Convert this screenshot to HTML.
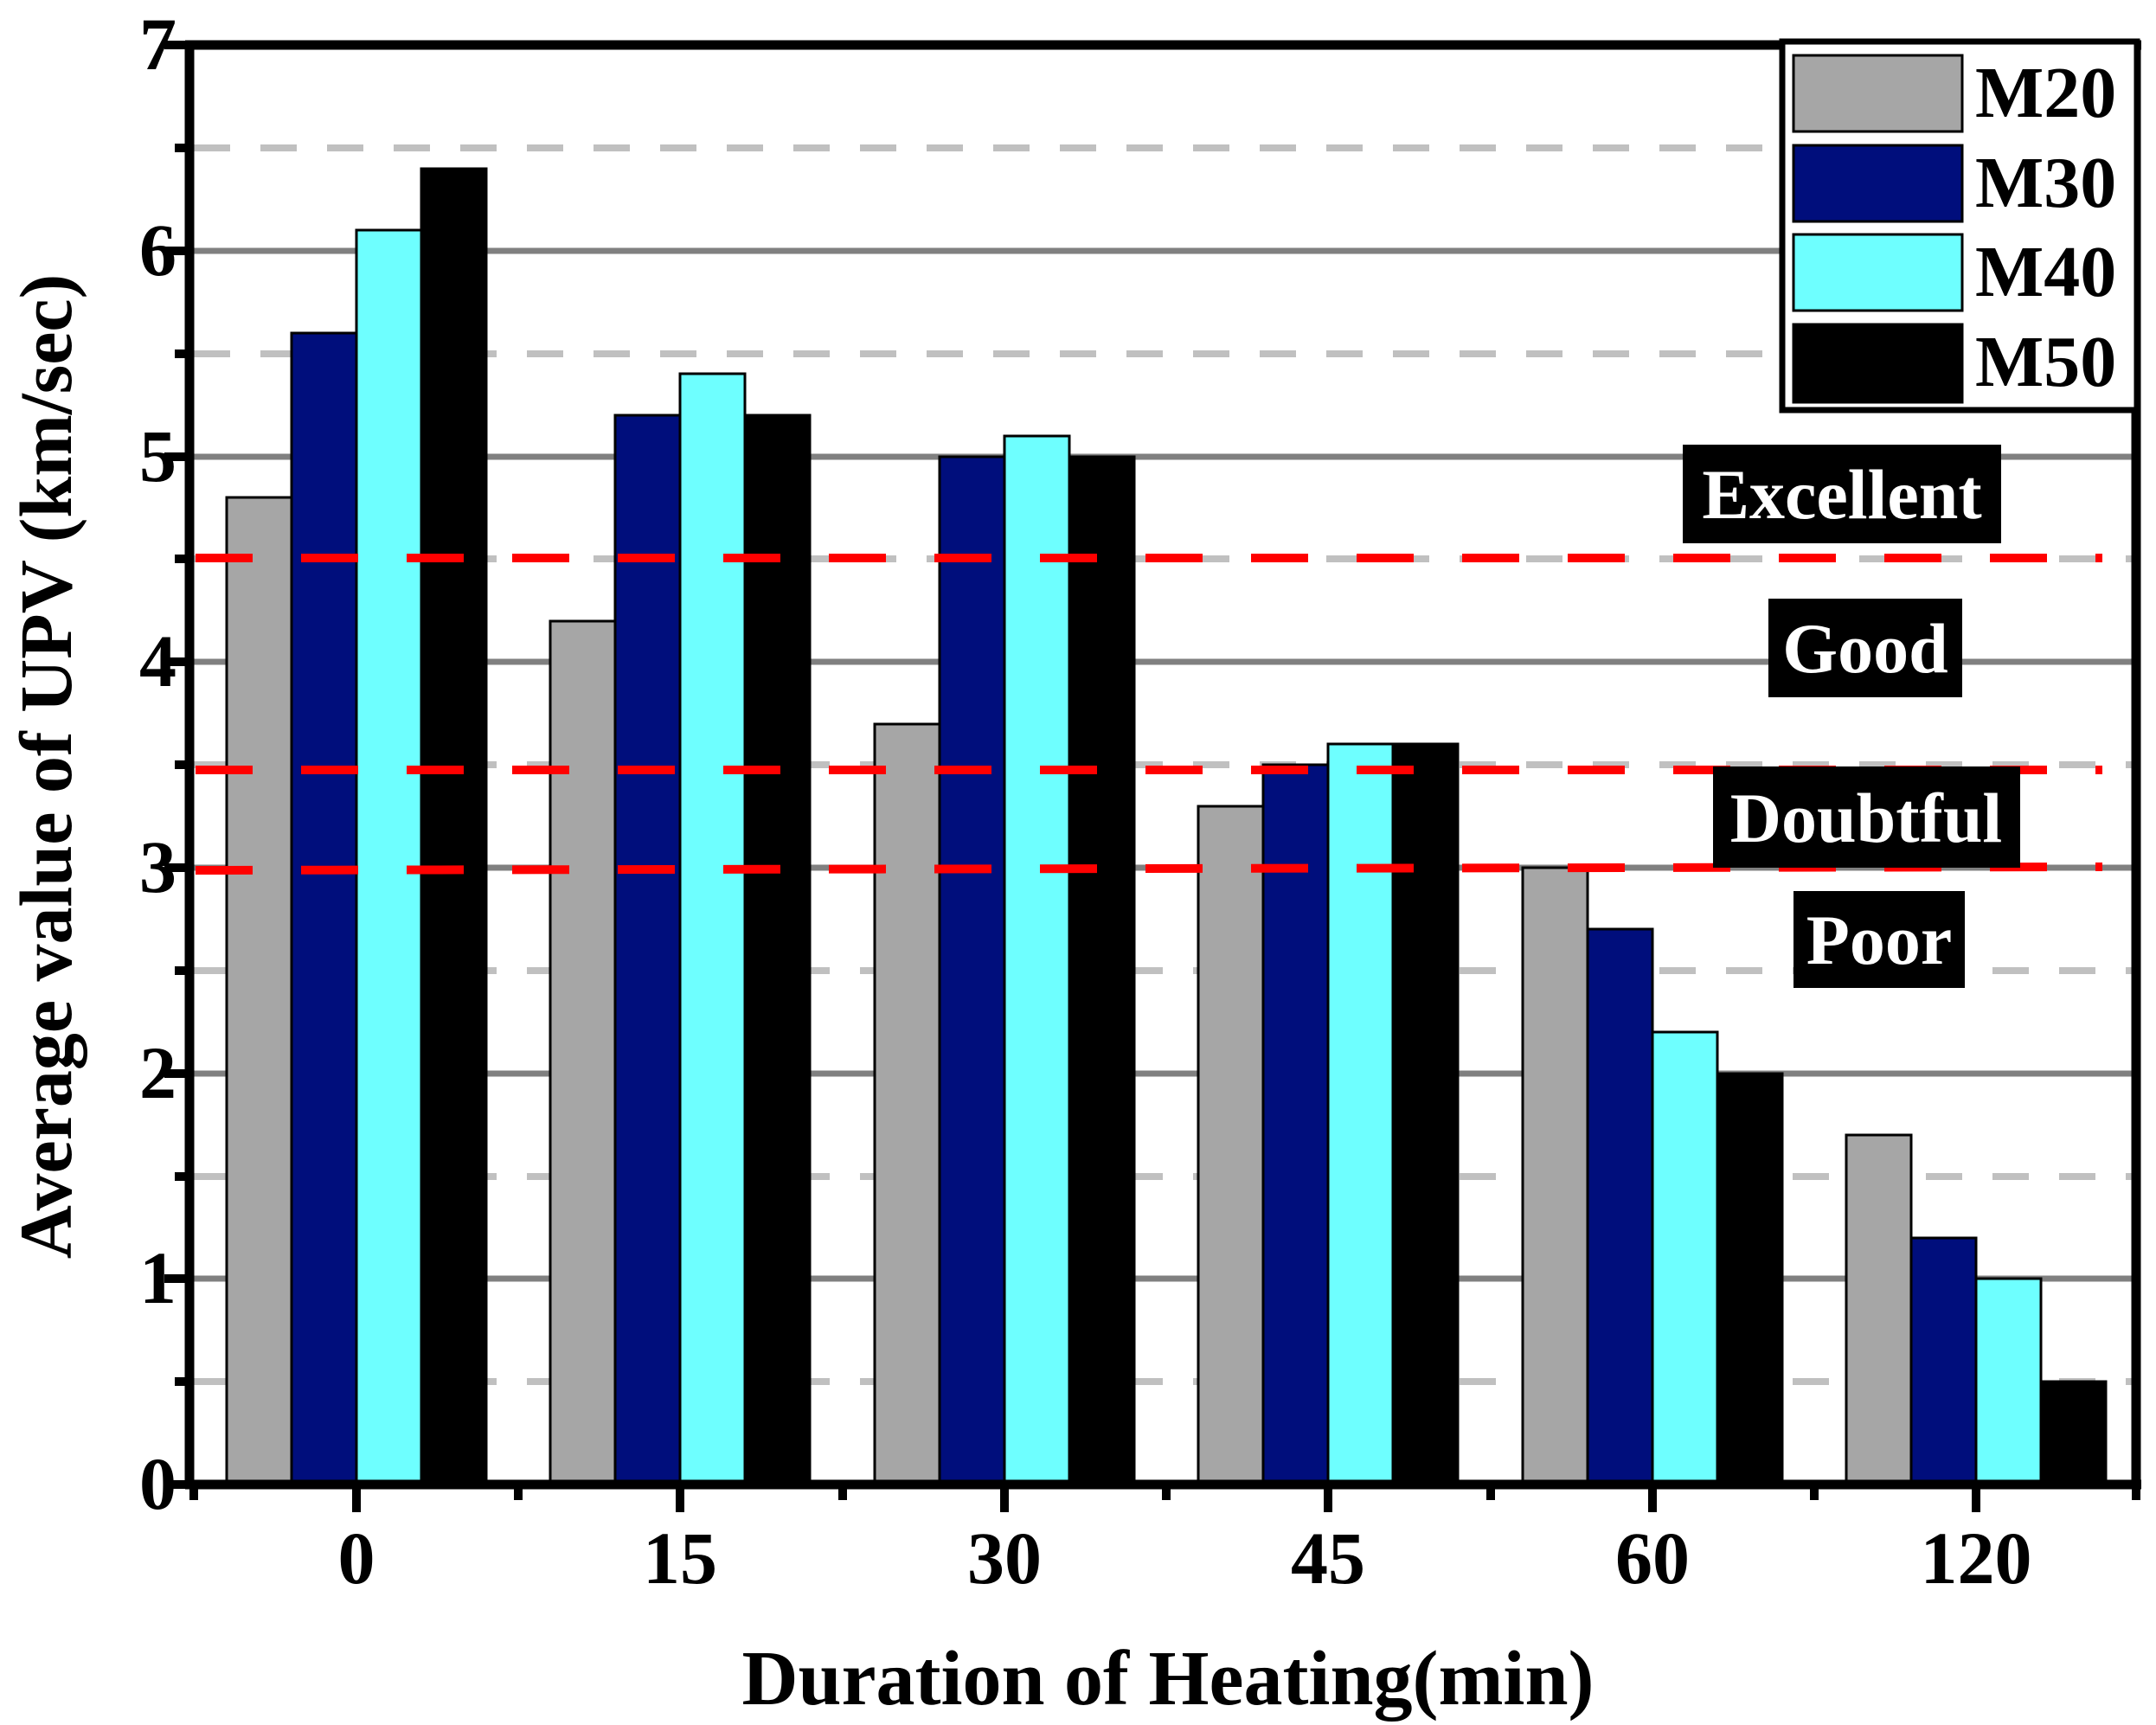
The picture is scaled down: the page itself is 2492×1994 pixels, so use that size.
<!DOCTYPE html>
<html><head><meta charset="utf-8"><style>html,body{margin:0;padding:0;background:#fff}svg{display:block}</style></head>
<body>
<svg width="2492" height="1994" viewBox="0 0 2492 1994" xmlns="http://www.w3.org/2000/svg" font-family="'Liberation Serif', serif" font-weight="bold">
<rect width="2492" height="1994" fill="#fff"/>
<g stroke="#c0c0c0" stroke-width="8" stroke-dasharray="42 35">
<line x1="224" x2="2466" y1="171" y2="171"/>
<line x1="224" x2="2466" y1="409" y2="409"/>
<line x1="224" x2="2466" y1="646" y2="646"/>
<line x1="224" x2="2466" y1="884" y2="884"/>
<line x1="224" x2="2466" y1="1122" y2="1122"/>
<line x1="224" x2="2466" y1="1360" y2="1360"/>
<line x1="224" x2="2466" y1="1597" y2="1597"/>
</g>
<g stroke="#808080" stroke-width="7">
<line x1="224" x2="2466" y1="290" y2="290"/>
<line x1="224" x2="2466" y1="528" y2="528"/>
<line x1="224" x2="2466" y1="765" y2="765"/>
<line x1="224" x2="2466" y1="1003" y2="1003"/>
<line x1="224" x2="2466" y1="1241" y2="1241"/>
<line x1="224" x2="2466" y1="1478" y2="1478"/>
</g>
<g stroke="#000" stroke-width="3">
<rect x="262" y="575" width="75" height="1141" fill="#a6a6a6"/>
<rect x="337" y="385" width="75" height="1331" fill="#000e7c"/>
<rect x="412" y="266" width="75" height="1450" fill="#6effff"/>
<rect x="487" y="195" width="75" height="1521" fill="#000"/>
<rect x="636" y="718" width="75" height="998" fill="#a6a6a6"/>
<rect x="711" y="480" width="75" height="1236" fill="#000e7c"/>
<rect x="786" y="432" width="75" height="1284" fill="#6effff"/>
<rect x="861" y="480" width="75" height="1236" fill="#000"/>
<rect x="1011" y="837" width="75" height="879" fill="#a6a6a6"/>
<rect x="1086" y="528" width="75" height="1188" fill="#000e7c"/>
<rect x="1161" y="504" width="75" height="1212" fill="#6effff"/>
<rect x="1236" y="528" width="75" height="1188" fill="#000"/>
<rect x="1385" y="932" width="75" height="784" fill="#a6a6a6"/>
<rect x="1460" y="884" width="75" height="832" fill="#000e7c"/>
<rect x="1535" y="860" width="75" height="856" fill="#6effff"/>
<rect x="1610" y="860" width="75" height="856" fill="#000"/>
<rect x="1760" y="1003" width="75" height="713" fill="#a6a6a6"/>
<rect x="1835" y="1074" width="75" height="642" fill="#000e7c"/>
<rect x="1910" y="1193" width="75" height="523" fill="#6effff"/>
<rect x="1985" y="1241" width="75" height="475" fill="#000"/>
<rect x="2134" y="1312" width="75" height="404" fill="#a6a6a6"/>
<rect x="2209" y="1431" width="75" height="285" fill="#000e7c"/>
<rect x="2284" y="1478" width="75" height="238" fill="#6effff"/>
<rect x="2359" y="1597" width="75" height="119" fill="#000"/>
</g>
<g stroke="#ff0000" stroke-width="10" stroke-dasharray="66 56">
<line x1="226" x2="2430" y1="645" y2="645"/>
<line x1="226" x2="2430" y1="890" y2="890"/>
<line x1="226" x2="2430" y1="1006" y2="1002"/>
</g>
<g fill="#000">
<rect x="1945" y="514" width="368" height="114"/>
<rect x="2044" y="692" width="224" height="114"/>
<rect x="1980" y="886" width="355" height="117"/>
<rect x="2073" y="1030" width="198" height="112"/>
</g>
<g fill="#fff" font-size="82" text-anchor="middle">
<text x="2129" y="599">Excellent</text>
<text x="2156" y="777">Good</text>
<text x="2157" y="973">Doubtful</text>
<text x="2172" y="1114">Poor</text>
</g>
<g stroke="#000" stroke-width="11" fill="none">
<line x1="214" x2="2475" y1="52" y2="52"/>
<line x1="219" x2="219" y1="47" y2="1721"/>
<line x1="2469" x2="2469" y1="47" y2="1721"/>
<line x1="214" x2="2475" y1="1716" y2="1716"/>
</g>
<g stroke="#000" stroke-width="10">
<line x1="190" x2="219" y1="52" y2="52"/>
<line x1="190" x2="219" y1="290" y2="290"/>
<line x1="190" x2="219" y1="528" y2="528"/>
<line x1="190" x2="219" y1="765" y2="765"/>
<line x1="190" x2="219" y1="1003" y2="1003"/>
<line x1="190" x2="219" y1="1241" y2="1241"/>
<line x1="190" x2="219" y1="1478" y2="1478"/>
<line x1="190" x2="219" y1="1716" y2="1716"/>
<line x1="202" x2="219" y1="171" y2="171"/>
<line x1="202" x2="219" y1="409" y2="409"/>
<line x1="202" x2="219" y1="646" y2="646"/>
<line x1="202" x2="219" y1="884" y2="884"/>
<line x1="202" x2="219" y1="1122" y2="1122"/>
<line x1="202" x2="219" y1="1360" y2="1360"/>
<line x1="202" x2="219" y1="1597" y2="1597"/>
<line x1="412" x2="412" y1="1716" y2="1748"/>
<line x1="786" x2="786" y1="1716" y2="1748"/>
<line x1="1161" x2="1161" y1="1716" y2="1748"/>
<line x1="1535" x2="1535" y1="1716" y2="1748"/>
<line x1="1910" x2="1910" y1="1716" y2="1748"/>
<line x1="2284" x2="2284" y1="1716" y2="1748"/>
<line x1="224" x2="224" y1="1716" y2="1734"/>
<line x1="599" x2="599" y1="1716" y2="1734"/>
<line x1="974" x2="974" y1="1716" y2="1734"/>
<line x1="1348" x2="1348" y1="1716" y2="1734"/>
<line x1="1723" x2="1723" y1="1716" y2="1734"/>
<line x1="2097" x2="2097" y1="1716" y2="1734"/>
<line x1="2469" x2="2469" y1="1716" y2="1734"/>
</g>
<g font-size="86" text-anchor="end" fill="#000">
<text x="204" y="80">7</text>
<text x="204" y="318">6</text>
<text x="204" y="556">5</text>
<text x="204" y="793">4</text>
<text x="204" y="1031">3</text>
<text x="204" y="1269">2</text>
<text x="204" y="1506">1</text>
<text x="204" y="1744">0</text>
</g>
<g font-size="86" text-anchor="middle" fill="#000">
<text x="412" y="1830">0</text>
<text x="786" y="1830">15</text>
<text x="1161" y="1830">30</text>
<text x="1535" y="1830">45</text>
<text x="1910" y="1830">60</text>
<text x="2284" y="1830">120</text>
</g>
<text x="1350" y="1970" font-size="90" text-anchor="middle">Duration of Heating(min)</text>
<text transform="translate(82,886) rotate(-90)" font-size="86" text-anchor="middle">Average value of UPV (km/sec)</text>
<rect x="2060" y="48" width="410" height="426" fill="#fff" stroke="#000" stroke-width="7"/>
<g stroke="#000" stroke-width="3">
<rect x="2073" y="64" width="195" height="88" fill="#a6a6a6"/>
<rect x="2073" y="168" width="195" height="88" fill="#000e7c"/>
<rect x="2073" y="271" width="195" height="88" fill="#6effff"/>
<rect x="2073" y="375" width="195" height="90" fill="#000"/>
</g>
<g font-size="84" fill="#000">
<text x="2283" y="135">M20</text>
<text x="2283" y="239">M30</text>
<text x="2283" y="342">M40</text>
<text x="2283" y="446">M50</text>
</g>
</svg>
</body></html>
